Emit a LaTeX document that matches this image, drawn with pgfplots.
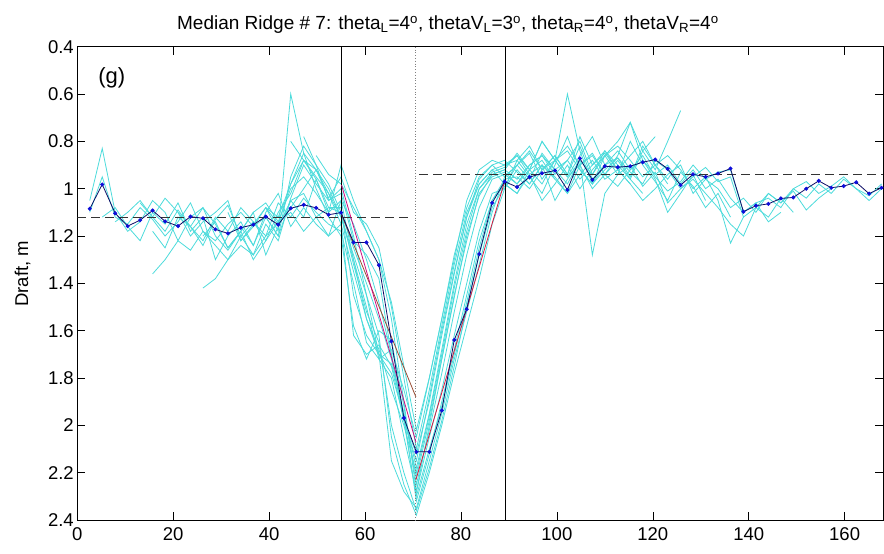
\documentclass[border=0pt]{standalone}
\usepackage{pgfplots}
\pgfplotsset{compat=1.18}
\usepackage{fontspec}
\setmainfont{Liberation Sans}
\definecolor{cy}{rgb}{0.30,0.86,0.86}
\definecolor{nav}{rgb}{0.05,0.05,0.40}
\definecolor{mk}{rgb}{0.05,0.05,0.85}
\definecolor{rd}{rgb}{0.85,0.10,0.25}
\definecolor{mg}{rgb}{0.80,0.05,0.50}
\definecolor{br}{rgb}{0.60,0.30,0.20}
\begin{document}
\begin{tikzpicture}
\begin{axis}[
  at={(0,0)}, anchor=south west,
  scale only axis, width=805.7pt, height=473.3pt,
  xmin=0, xmax=168, ymin=0.4, ymax=2.4, y dir=reverse,
  xtick={0,20,...,160}, ytick={0.4,0.6,...,2.41},
  tick align=inside, major tick length=8pt,
  xtick pos=both, ytick pos=both,
  axis line style={line width=0.7pt},
  every tick/.style={black, line width=0.5pt},
  /pgf/number format/assume math mode=true,
  tick label style={font=\fontsize{18.5}{20}\selectfont},
  xticklabel style={yshift=-4pt},
  ylabel={Draft, m},
  ylabel style={font=\fontsize{18.5}{20}\selectfont, at={(axis description cs:-0.068,0.52)}, anchor=center},
  title={Median Ridge \# 7: theta\textsubscript{L}=4\textsuperscript{o}, thetaV\textsubscript{L}=3\textsuperscript{o}, theta\textsubscript{R}=4\textsuperscript{o}, thetaV\textsubscript{R}=4\textsuperscript{o}},
  title style={font=\fontsize{19}{21}\selectfont, at={(0.46,1)}, anchor=base, yshift=11pt},
  clip=true,
]
% cyan individual profiles
\pgfplotsset{cyl/.style={cy, line width=0.8pt, no marks}}
\addplot[cyl] coordinates {(2.6,1.10)(5.2,0.95)(7.9,1.12)(10.5,1.15)(13.1,1.08)(15.7,1.13)(18.3,1.20)(21.0,1.14)(23.6,1.06)(26.2,1.18)(28.8,1.22)(31.4,1.15)(34.1,1.10)(36.7,1.16)(39.3,1.12)(41.9,1.20)(44.5,1.05)(47.2,1.02)(49.8,1.12)(52.4,1.08)
(55.0,1.10)(57.6,1.25)(60.3,1.40)(62.9,1.55)(65.5,1.72)(68.1,1.95)(70.7,2.22)(73.4,1.98)(76.0,1.72)(78.6,1.45)(81.2,1.22)(83.8,1.02)(86.5,0.95)(89.1,0.93)
(91.7,0.98)(94.3,0.92)(96.9,0.88)(99.6,0.96)(102.2,1.02)(104.8,0.90)(107.4,0.85)(110.0,0.94)(112.7,0.99)(115.3,0.92)(117.9,0.86)(120.5,0.95)(123.1,1.01)(125.8,0.97)(128.4,0.90)(131.0,0.96)(133.6,0.93)(136.2,0.92)(138.9,1.10)(141.5,1.06)(144.1,1.04)(146.7,1.08)(149.3,1.00)(152.0,0.97)(154.6,1.02)(157.2,0.99)(159.8,0.95)(162.4,1.00)(165.1,1.03)(167.7,0.98)};
\addplot[cyl] coordinates {(2.6,1.05)(5.2,0.83)(7.9,1.10)(10.5,1.18)(13.1,1.14)(15.7,1.05)(18.3,1.10)(21.0,1.22)(23.6,1.12)(26.2,1.08)(28.8,1.15)(31.4,1.25)(34.1,1.18)(36.7,1.10)(39.3,1.06)(41.9,1.14)(44.5,1.00)(47.2,0.95)(49.8,1.02)(52.4,1.10)
(55.0,1.05)(57.6,1.15)(60.3,1.30)(62.9,1.48)(65.5,1.70)(68.1,1.98)(70.7,2.30)(73.4,2.10)(76.0,1.92)(78.6,1.70)(81.2,1.48)(83.8,1.25)(86.5,1.05)(89.1,0.96)
(91.7,0.95)(94.3,1.00)(96.9,0.92)(99.6,0.86)(102.2,0.94)(104.8,0.82)(107.4,0.96)(110.0,0.90)(112.7,0.87)(115.3,0.93)(117.9,0.98)(120.5,0.88)(123.1,0.92)(125.8,1.00)(128.4,0.95)(131.0,0.91)(133.6,0.97)(136.2,0.95)(138.9,1.12)(141.5,1.08)(144.1,1.02)(146.7,1.06)(149.3,1.01)(152.0,1.09)(154.6,1.04)(157.2,1.00)};
\addplot[cyl] coordinates {(5.2,1.12)(7.9,1.08)(10.5,1.16)(13.1,1.22)(15.7,1.10)(18.3,1.15)(21.0,1.06)(23.6,1.18)(26.2,1.12)(28.8,1.30)(31.4,1.20)(34.1,1.14)(36.7,1.24)(39.3,1.10)(41.9,1.02)(44.5,1.16)(47.2,1.08)(49.8,1.15)(52.4,1.20)
(55.0,1.15)(57.6,1.62)(60.3,1.70)(62.9,1.66)(65.5,1.75)(68.1,1.98)(70.7,2.15)(73.4,1.88)(76.0,1.60)(78.6,1.35)(81.2,1.12)(83.8,0.98)(86.5,0.92)(89.1,0.90)
(91.7,0.88)(94.3,0.95)(96.9,1.02)(99.6,0.90)(102.2,0.78)(104.8,0.92)(107.4,0.98)(110.0,0.86)(112.7,0.94)(115.3,0.80)(117.9,0.90)(120.5,0.97)(123.1,1.05)(125.8,0.93)(128.4,0.99)(131.0,1.08)(133.6,1.02)(136.2,1.12)};
\addplot[cyl] coordinates {(7.9,1.14)(10.5,1.10)(13.1,1.05)(15.7,1.12)(18.3,1.18)(21.0,1.09)(23.6,1.16)(26.2,1.24)(28.8,1.13)(31.4,1.07)(34.1,1.20)(36.7,1.28)(39.3,1.15)(41.9,1.22)(44.5,1.04)(47.2,0.90)(49.8,0.98)(52.4,1.05)
(55.0,1.00)(57.6,1.20)(60.3,1.45)(62.9,1.70)(65.5,2.15)(68.1,2.28)(70.7,2.35)(73.4,2.15)(76.0,1.95)(78.6,1.72)(81.2,1.52)(83.8,1.32)(86.5,1.10)(89.1,0.95)
(91.7,0.90)(94.3,0.85)(96.9,0.96)(99.6,0.88)(102.2,0.60)(104.8,0.84)(107.4,0.98)(110.0,0.92)(112.7,0.87)(115.3,0.95)(117.9,0.82)(120.5,0.90)(123.1,0.96)(125.8,0.88)};
\addplot[cyl] coordinates {(13.1,1.06)(15.7,1.12)(18.3,1.04)(21.0,1.10)(23.6,1.20)(26.2,1.14)(28.8,1.10)(31.4,1.05)(34.1,1.22)(36.7,1.16)(39.3,1.08)(41.9,1.12)(44.5,0.98)(47.2,0.88)(49.8,0.95)(52.4,1.02)
(55.0,1.12)(57.6,1.30)(60.3,1.50)(62.9,1.72)(65.5,1.68)(68.1,1.85)(70.7,2.05)(73.4,1.80)(76.0,1.55)(78.6,1.28)(81.2,1.08)(83.8,0.95)(86.5,0.90)(89.1,0.88)
(91.7,0.93)(94.3,0.98)(96.9,0.90)(99.6,1.05)(102.2,0.96)(104.8,0.88)(107.4,1.28)(110.0,1.02)(112.7,0.94)(115.3,0.90)(117.9,0.99)(120.5,0.93)(123.1,1.06)(125.8,1.00)(128.4,0.96)(131.0,1.02)(133.6,1.08)(136.2,1.15)(138.9,1.20)(141.5,1.08)(144.1,1.12)(146.7,1.04)(149.3,1.10)};
\addplot[cyl] coordinates {(15.7,1.18)(18.3,1.25)(21.0,1.12)(23.6,1.16)(26.2,1.08)(28.8,1.20)(31.4,1.26)(34.1,1.18)(36.7,1.30)(39.3,1.22)(41.9,1.14)(44.5,1.08)(47.2,1.00)(49.8,0.92)(52.4,1.04)
(55.0,0.95)(57.6,1.10)(60.3,1.15)(62.9,1.25)(65.5,1.50)(68.1,1.80)(70.7,2.10)(73.4,1.85)(76.0,1.58)(78.6,1.32)(81.2,1.10)(83.8,0.98)(86.5,0.92)(89.1,0.98)
(91.7,1.02)(94.3,0.94)(96.9,1.05)(99.6,0.98)(102.2,0.90)(104.8,1.00)(107.4,0.92)(110.0,0.86)(112.7,0.80)(115.3,0.72)(117.9,0.84)(120.5,0.78)};
\addplot[cyl] coordinates {(21.0,1.10)(23.6,1.16)(26.2,1.22)(28.8,1.12)(31.4,1.18)(34.1,1.08)(36.7,1.14)(39.3,1.20)(41.9,1.06)(44.5,1.12)(47.2,1.04)(49.8,1.10)(52.4,1.15)
(55.0,1.18)(57.6,1.40)(60.3,1.65)(62.9,1.72)(65.5,1.80)(68.1,2.05)(70.7,2.28)(73.4,2.05)(76.0,1.85)(78.6,1.62)(81.2,1.40)(83.8,1.18)(86.5,1.02)(89.1,1.00)
(91.7,0.92)(94.3,0.98)(96.9,0.90)(99.6,0.95)(102.2,1.02)(104.8,0.94)(107.4,0.88)(110.0,0.96)(112.7,0.92)(115.3,0.98)(117.9,1.05)(120.5,1.00)(123.1,0.94)(125.8,0.90)(128.4,1.02)(131.0,0.96)(133.6,1.00)(136.2,1.08)(138.9,1.04)(141.5,1.10)(144.1,1.02)(146.7,1.06)(149.3,1.00)(152.0,1.04)(154.6,0.98)(157.2,1.02)(159.8,0.96)(162.4,1.00)(165.1,1.05)(167.7,1.00)};
\addplot[cyl] coordinates {(26.2,1.20)(28.8,1.14)(31.4,1.25)(34.1,1.18)(36.7,1.10)(39.3,1.28)(41.9,1.16)(44.5,1.05)(47.2,1.12)(49.8,0.96)(52.4,1.08)
(55.0,1.08)(57.6,1.45)(60.3,1.62)(62.9,1.70)(65.5,1.74)(68.1,1.95)(70.7,2.18)(73.4,1.95)(76.0,1.68)(78.6,1.40)(81.2,1.15)(83.8,1.00)(86.5,0.94)(89.1,0.92)
(91.7,0.85)(94.3,0.92)(96.9,0.80)(99.6,0.88)(102.2,0.95)(104.8,0.86)(107.4,0.78)(110.0,0.90)(112.7,0.84)(115.3,0.92)(117.9,0.88)(120.5,0.96)(123.1,1.10)(125.8,1.02)(128.4,0.94)(131.0,1.05)};
\addplot[cyl] coordinates {(31.4,1.10)(34.1,1.22)(36.7,1.15)(39.3,1.08)(41.9,1.18)(44.5,0.60)(47.2,0.85)(49.8,1.00)(52.4,1.12)
(55.0,1.20)(57.6,1.58)(60.3,1.72)(62.9,1.60)(65.5,1.64)(68.1,1.92)(70.7,2.25)(73.4,2.02)(76.0,1.78)(78.6,1.52)(81.2,1.28)(83.8,1.08)(86.5,0.96)(89.1,0.94)
(91.7,0.98)(94.3,0.90)(96.9,0.86)(99.6,0.94)(102.2,0.88)(104.8,0.96)(107.4,0.90)(110.0,0.85)(112.7,0.92)(115.3,0.98)};
\addplot[cyl] coordinates {(34.1,1.16)(36.7,1.24)(39.3,1.12)(41.9,1.20)(44.5,0.95)(47.2,0.82)(49.8,0.90)(52.4,1.05)
(55.0,1.02)(57.6,1.22)(60.3,1.28)(62.9,1.38)(65.5,1.70)(68.1,1.98)(70.7,2.12)(73.4,1.90)(76.0,1.62)(78.6,1.36)(81.2,1.12)(83.8,0.96)(86.5,0.90)(89.1,0.95)
(91.7,0.90)(94.3,0.96)(96.9,0.85)(99.6,0.92)(102.2,0.88)(104.8,0.80)(107.4,0.94)(110.0,0.86)(112.7,0.82)(115.3,0.88)(117.9,0.95)(120.5,0.90)(123.1,0.86)(125.8,0.92)(128.4,1.00)(131.0,0.95)(133.6,1.05)(136.2,1.23)(138.9,1.12)};
\addplot[cyl] coordinates {(39.3,1.08)(41.9,1.15)(44.5,0.98)(47.2,0.85)(49.8,0.92)(52.4,1.00)
(55.0,1.12)(57.6,1.28)(60.3,1.45)(62.9,1.62)(65.5,2.05)(68.1,2.25)(70.7,2.38)(73.4,2.20)(76.0,2.00)(78.6,1.78)(81.2,1.58)(83.8,1.38)(86.5,1.15)(89.1,1.00)
(91.7,0.88)(94.3,0.82)(96.9,0.92)(99.6,0.86)(102.2,0.94)(104.8,0.78)(107.4,0.90)(110.0,0.84)(112.7,0.92)(115.3,0.86)(117.9,0.80)(120.5,0.90)(123.1,0.98)};
\addplot[cyl] coordinates {(15.7,1.36)(18.3,1.30)(21.0,1.22)(23.6,1.26)(26.2,1.18)(28.8,1.24)(31.4,1.30)(34.1,1.20)(36.7,1.14)(39.3,1.22)(41.9,1.10)(44.5,1.02)(47.2,0.88)(49.8,0.96)(52.4,1.10)
(55.0,0.90)(57.6,1.05)(60.3,1.18)(62.9,1.30)(65.5,1.48)(68.1,1.75)(70.7,2.02)(73.4,1.80)(76.0,1.55)(78.6,1.30)(81.2,1.05)(83.8,0.92)(86.5,0.88)(89.1,0.90)
(91.7,0.86)(94.3,0.92)(96.9,0.80)(99.6,0.88)(102.2,0.84)(104.8,0.92)(107.4,0.98)(110.0,0.90)};
\addplot[cyl] coordinates {(44.5,0.80)(47.2,0.88)(49.8,0.92)(52.4,1.02)
(55.0,1.15)(57.6,1.35)(60.3,1.55)(62.9,1.70)(65.5,1.78)(68.1,1.96)(70.7,2.32)(73.4,2.12)(76.0,1.90)(78.6,1.68)(81.2,1.45)(83.8,1.22)(86.5,1.05)(89.1,0.98)
(91.7,1.02)(94.3,0.92)(96.9,0.98)(99.6,0.88)(102.2,0.95)(104.8,0.90)(107.4,1.00)(110.0,0.94)(112.7,0.86)(115.3,0.72)(117.9,0.88)(120.5,0.94)(123.1,0.90)(125.8,0.98)(128.4,0.92)(131.0,1.00)(133.6,0.96)(136.2,1.04)(138.9,1.10)(141.5,1.06)(144.1,1.14)(146.7,1.10)};
\addplot[cyl] coordinates {(26.2,1.42)(28.8,1.38)(31.4,1.30)(34.1,1.24)(36.7,1.28)(39.3,1.20)(41.9,1.14)(44.5,1.10)(47.2,1.18)(49.8,1.12)(52.4,1.20)
(55.0,1.05)(57.6,1.30)(60.3,1.55)(62.9,1.68)(65.5,1.85)(68.1,2.00)(70.7,2.20)(73.4,1.96)(76.0,1.70)(78.6,1.42)(81.2,1.18)(83.8,1.00)(86.5,0.93)(89.1,0.91)
(91.7,0.86)(94.3,0.94)(96.9,0.90)(99.6,0.96)};
\addplot[cyl] coordinates {(47.2,0.78)(49.8,0.90)(52.4,0.98)
(55.0,1.10)(57.6,1.32)(60.3,1.52)(62.9,1.65)(65.5,2.00)(68.1,2.20)(70.7,2.36)(73.4,2.18)(76.0,1.98)(78.6,1.75)(81.2,1.50)(83.8,1.28)(86.5,1.08)(89.1,0.99)
(91.7,0.90)(94.3,0.84)(96.9,0.92)(99.6,0.88)(102.2,0.82)(104.8,0.90)(107.4,0.86)(110.0,0.94)(112.7,0.88)(115.3,0.96)(117.9,0.84)(120.5,0.92)(123.1,0.80)(125.8,0.67)};
\addplot[cyl] coordinates {(49.8,0.86)(52.4,0.94)
(55.0,0.98)(57.6,1.08)(60.3,1.18)(62.9,1.30)(65.5,1.55)(68.1,1.90)(70.7,2.28)(73.4,2.00)(76.0,1.72)(78.6,1.46)(81.2,1.20)(83.8,1.03)(86.5,0.94)(89.1,0.92)
(91.7,0.96)(94.3,0.90)(96.9,0.86)(99.6,0.92)(102.2,0.98)(104.8,0.88)(107.4,0.94)(110.0,0.84)(112.7,0.90)(115.3,0.96)(117.9,1.02)};
% reference lines
\addplot[black, line width=0.6pt, no marks] coordinates {(55.1,0.4)(55.1,2.4)};
\addplot[black, line width=0.6pt, no marks] coordinates {(89.2,0.4)(89.2,2.4)};
\addplot[gray, line width=0.8pt, dotted, no marks] coordinates {(70.6,0.4)(70.6,2.4)};
\addplot[black!80, line width=0.8pt, dash pattern=on 9pt off 5pt, no marks] coordinates {(0,1.12)(70.0,1.12)};
\addplot[black!80, line width=0.8pt, dash pattern=on 9pt off 5pt, no marks] coordinates {(71.3,0.94)(168,0.94)};
% model lines
\addplot[br, line width=0.8pt, no marks] coordinates {(55.1,1.11)(70.6,1.88)};
\addplot[mg, line width=0.8pt, no marks] coordinates {(55.1,0.985)(70.6,2.07)};
\addplot[rd, line width=0.8pt, no marks] coordinates {(70.6,2.23)(89.1,0.97)};
% median profile
\addplot[nav, line width=0.8pt, mark=*, mark size=1.6pt, mark options={fill=mk, draw=mk}] coordinates {
(2.6,1.085)(5.2,0.982)(7.9,1.104)(10.5,1.158)(13.1,1.133)(15.7,1.092)(18.3,1.138)(21.0,1.158)(23.6,1.118)(26.2,1.125)(28.8,1.172)(31.4,1.189)(34.1,1.165)(36.7,1.152)(39.3,1.118)(41.9,1.152)(44.5,1.083)(47.2,1.068)(49.8,1.081)(52.4,1.110)
(55.0,1.101)(57.6,1.227)(60.3,1.227)(62.9,1.323)(65.5,1.645)(68.1,1.969)(70.7,2.112)(73.4,2.112)(76.0,1.937)(78.6,1.639)(81.2,1.509)(83.8,1.276)(86.5,1.060)(89.1,0.970)
(91.7,0.993)(94.3,0.951)(96.9,0.935)(99.6,0.923)(102.2,1.005)(104.8,0.872)(107.4,0.963)(110.0,0.905)(112.7,0.909)(115.3,0.905)(117.9,0.888)(120.5,0.877)(123.1,0.916)(125.8,0.985)(128.4,0.939)(131.0,0.950)(133.6,0.936)(136.2,0.915)(138.9,1.097)(141.5,1.072)(144.1,1.064)(146.7,1.041)(149.3,1.037)(152.0,1.000)(154.6,0.967)(157.2,0.996)(159.8,0.989)(162.4,0.973)(165.1,1.021)(167.7,0.996)};
\node[font=\fontsize{22}{24}\selectfont] at (axis cs:7.2,0.53) {(g)};
\end{axis}
\pgfresetboundingbox
\useasboundingbox (-77.3pt,-34pt) rectangle (806.7pt,520pt);
\end{tikzpicture}
\end{document}
